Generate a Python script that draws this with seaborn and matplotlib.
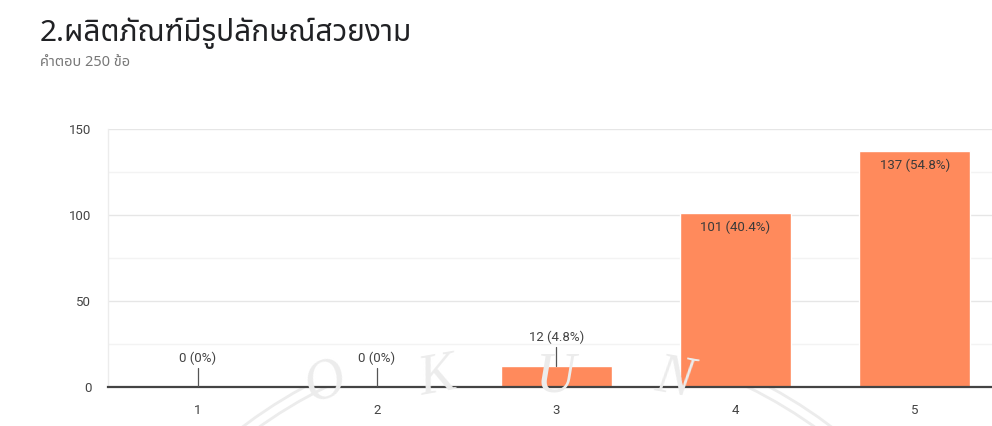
import numpy as np
import pandas as pd
import matplotlib
matplotlib.use("Agg")
import matplotlib.pyplot as plt
from matplotlib import font_manager
from matplotlib.patches import Arc
import seaborn as sns

# ---- data ----
categories = ["1", "2", "3", "4", "5"]
counts = [0, 0, 12, 101, 137]
percent_labels = ["0%", "0%", "4.8%", "40.4%", "54.8%"]
y_ticks = [0, 50, 100, 150]
title = "2.ผลิตภัณฑ์มีรูปลักษณ์สวยงาม"
subtitle = "คำตอบ 250 ข้อ"

sns.set_theme(style="white")


def find_thai_family():
    """Return the name of an installed font family that covers Thai script."""
    from matplotlib.ft2font import FT2Font
    found = []
    for f in font_manager.fontManager.ttflist:
        try:
            cmap = FT2Font(f.fname).get_charmap()
        except Exception:
            continue
        if ord("ผ") in cmap and ord("ิ") in cmap:
            found.append(f.name)
    for name in ("Noto Sans Thai", "Noto Sans Thai UI", "Loma", "Garuda", "Tlwg Typo"):
        if name in found:
            return name
    return found[0] if found else None


thai = find_thai_family()
families = ([thai] if thai else []) + ["Roboto", "DejaVu Sans"]
plt.rcParams["font.family"] = ["Roboto", "DejaVu Sans"]

df = pd.DataFrame({"category": categories, "count": counts})

W, H = 992, 426
fig = plt.figure(figsize=(W / 100, H / 100), dpi=100)
fig.patch.set_facecolor("white")

# plot area in pixel coordinates
left_px, right_px, top_px, bottom_px = 108, 992, 129, 387
ax = fig.add_axes([left_px / W, 1 - bottom_px / H,
                   (right_px - left_px) / W, (bottom_px - top_px) / H])
step_px = 179.3

bar_color = "#ff8a5c"
sns.barplot(data=df, x="category", y="count", color=bar_color, saturation=1,
            width=0.62, ax=ax, zorder=3)

ax.set_ylim(0, 150)
ax.set_xlim(-0.5, -0.5 + (right_px - left_px) / step_px)
ax.set_yticks(y_ticks)
ax.set_yticks([25, 75, 125], minor=True)
ax.set_xlabel("")
ax.set_ylabel("")
ax.grid(axis="y", which="major", color="#e6e6e6", linewidth=1.0, zorder=0)
ax.grid(axis="y", which="minor", color="#f3f3f3", linewidth=1.0, zorder=0)
for s in ("top", "right"):
    ax.spines[s].set_visible(False)
ax.spines["left"].set_color("#ececec")
ax.spines["left"].set_linewidth(1.0)
ax.spines["bottom"].set_color("#444444")
ax.spines["bottom"].set_linewidth(1.6)
ax.spines["bottom"].set_zorder(4)
ax.tick_params(axis="both", which="both", length=0, labelsize=9.5,
               colors="#444444")
ax.tick_params(axis="y", pad=12)
ax.tick_params(axis="x", pad=12)

# value labels: inside tall bars, above short ones with a leader line
for i, (c, p) in enumerate(zip(counts, percent_labels)):
    text = f"{c} ({p})"
    if c >= 50:
        ax.text(i, c - 4, text, ha="center", va="top", fontsize=9.5,
                color="#3a3a3a", zorder=5)
    else:
        ax.plot([i, i], [c, c + 11], color="#555555", linewidth=0.9, zorder=5)
        ax.text(i, c + 13, text, ha="center", va="bottom", fontsize=9.5,
                color="#444444", zorder=5)

# title and response count
fig.text(40 / W, 1 - 33 / H, title, family=families, fontsize=21.5,
         color="#202124", va="center", ha="left")
fig.text(40 / W, 1 - 62 / H, subtitle, family=families, fontsize=10.5,
         color="#777777", va="center", ha="left")

# faint seal watermark across the lower half
wm = "#ececec"
cx, cy = 537 / W, 1 - 816 / H
for r in (488, 478):
    fig.add_artist(Arc((cx, cy), 2 * r / W, 2 * r / H, theta1=15, theta2=165,
                       color=wm, linewidth=2.0, transform=fig.transFigure,
                       zorder=0))
for ch, x, y, rot in (("O", 330, 396, 20), ("K", 440, 392, 10),
                      ("U", 556, 391, 0), ("N", 672, 393, -10)):
    fig.text(x / W, 1 - y / H, ch, family="Liberation Serif", style="italic",
             fontsize=40, color=wm, ha="center", va="baseline", rotation=rot,
             rotation_mode="anchor", zorder=0)

fig.savefig("out.png", dpi=100, facecolor="white")
